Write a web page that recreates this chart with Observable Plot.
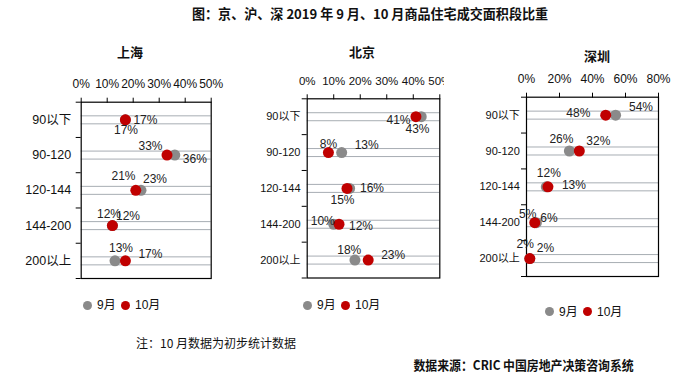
<!DOCTYPE html>
<html><head><meta charset="utf-8">
<script src="https://cdn.jsdelivr.net/npm/d3@7"></script>
<script src="https://cdn.jsdelivr.net/npm/@observablehq/plot@0.6"></script>
<style>
body{margin:0;background:#fff;}
#wrap{position:relative;width:700px;height:382px;overflow:hidden;background:#fff;font-family:"Liberation Sans",Arial,"Noto Sans CJK SC",sans-serif;color:#111;}
.abs{position:absolute;white-space:nowrap;line-height:1;}
.ttl{font-family:"Noto Sans CJK SC",sans-serif;font-weight:700;}
.panel{position:absolute;top:60px;}
.panel svg{display:block;overflow:hidden;background:transparent;}
.dot{position:absolute;width:9px;height:9px;border-radius:50%;}
</style></head><body><div id="wrap"></div>
<script>
// ---- data ----
const categories = ["90以下","90-120","120-144","144-200","200以上"];
const cities = ["上海","北京","深圳"];
const seriesNames = ["9月","10月"];
const shanghaiSep = [17,36,23,12,13];
const shanghaiOct = [17,33,21,12,17];
const beijingSep  = [43,13,16,10,18];
const beijingOct  = [41,8,15,12,23];
const shenzhenSep = [54,26,12,6,2];
const shenzhenOct = [48,32,13,5,2];
const shanghaiTicks = [0,10,20,30,40,50];
const beijingTicks  = [0,10,20,30,40,50];
const shenzhenTicks = [0,20,40,60,80];
const titleText = "图：京、沪、深 2019 年 9 月、10 月商品住宅成交面积段比重";
const noteText = "注：10 月数据为初步统计数据";
const sourceText = "数据来源：CRIC 中国房地产决策咨询系统";

// ---- layout (label offsets in px, not data) ----
const gray = "#8a8a8a", red = "#c00000", gridColor = "#a7adb3";
const panels = [
  {city: cities[0], sep: shanghaiSep, oct: shanghaiOct, ticks: shanghaiTicks, max: 50,
   left: 0, width: 230, mL: 80.7, mR: 19.3, mT: 41.7, mB: 7, catPad: 10, catSize: 12.5, tickSize: 12,
   sepOff: [[0.6,10],[20,4.4],[14,-11.5],[-3.4,-11],[6,-12.7]],
   octOff: [[20,0],[-16.5,-8.6],[-12.3,-14],[15.6,-9],[25,-7]],
   title: [130,51], legend: [87,305]},
  {city: cities[1], sep: beijingSep, oct: beijingOct, ticks: beijingTicks, max: 50,
   left: 240, width: 204, mL: 66.7, mR: 4.7, mT: 38.3, mB: 7.5, catPad: 6.7, catSize: 11, tickSize: 11.5,
   sepOff: [[-3.7,12],[25,-7],[22.4,0],[-11,-3.3],[-5.7,-9.7]],
   octOff: [[-17.4,3],[0,-8.6],[-4.5,11.7],[22,2.4],[25,-4.7]],
   title: [362,51], legend: [307,305]},
  {city: cities[2], sep: shenzhenSep, oct: shenzhenOct, ticks: shenzhenTicks, max: 80,
   left: 460, width: 240, mL: 66, mR: 42, mT: 36.7, mB: 9, catPad: 6.7, catSize: 11, tickSize: 12,
   sepOff: [[25.4,-8],[-8,-11.5],[2.5,-13.6],[12.6,-5],[-4.6,-14]],
   octOff: [[-27.4,-2],[19,-9.5],[26,-1.3],[-7,-9],[15.7,-10.4]],
   title: [597,55], legend: [549,311.7]}
];

const wrap = document.getElementById("wrap");
function addText(txt, x, y, css, size, anchor, fitW) {
  const d = document.createElement("div");
  d.className = "abs " + (css||"");
  d.textContent = txt;
  d.style.fontSize = size + "px";
  wrap.appendChild(d);
  const w = d.offsetWidth, h = d.offsetHeight;
  d.style.left = (anchor === "left" ? x : x - w/2) + "px";
  d.style.top = (y - h/2) + "px";
  if (fitW) { d.style.transformOrigin = "50% 50%"; d.style.transform = `scaleX(${fitW / w})`; }
  return d;
}
function addDot(x, y, color) {
  const d = document.createElement("div");
  d.className = "dot";
  d.style.background = color;
  d.style.left = (x - 4.5) + "px";
  d.style.top = (y - 4.5) + "px";
  wrap.appendChild(d);
}

addText(titleText, 370, 14, "ttl", 13.5, "center", 356);

for (const p of panels) {
  const rows = categories.map((c, i) => ({cat: c, pos: i + 0.5, sep: p.sep[i], oct: p.oct[i]}));
  const height = 225;
  const labelMarks = rows.flatMap((r, i) => [
    Plot.text([r], {x: "sep", y: "pos", text: d => d.sep + "%", dx: p.sepOff[i][0], dy: p.sepOff[i][1], fontSize: 12, fill: "#222"}),
    Plot.text([r], {x: "oct", y: "pos", text: d => d.oct + "%", dx: p.octOff[i][0], dy: p.octOff[i][1], fontSize: 12, fill: "#222"})
  ]);
  const svg = Plot.plot({
    width: p.width, height,
    marginLeft: p.mL, marginRight: p.mR, marginTop: p.mT, marginBottom: p.mB,
    style: {fontFamily: '"Liberation Sans", Arial, "Noto Sans CJK SC", sans-serif', background: "transparent", overflow: "hidden"},
    x: {domain: [0, p.max], label: null, axis: null},
    y: {domain: [0, categories.length], reverse: true, label: null, axis: null},
    marks: [
      Plot.ruleY(rows, {y: "pos", dy: -4, stroke: gridColor, strokeWidth: 1}),
      Plot.ruleY(rows, {y: "pos", dy: 4, stroke: gridColor, strokeWidth: 1}),
      Plot.axisX({anchor: "top", ticks: p.ticks, tickFormat: d => d + "%", tickSize: 5, tickPadding: 9, fontSize: p.tickSize, stroke: "#000", fill: "#111", label: null}),
      Plot.axisY({anchor: "left", ticks: d3.range(categories.length + 1), tickFormat: () => "", tickSize: 5, stroke: "#000", label: null}),
      Plot.axisY({anchor: "left", ticks: rows.map(r => r.pos), tickFormat: v => categories[Math.floor(v)], tickSize: 0, tickPadding: p.catPad, fontSize: p.catSize, fill: "#111", label: null}),
      Plot.frame({stroke: "#000", strokeWidth: 1.2}),
      Plot.dot(rows, {x: "sep", y: "pos", r: 5.5, fill: gray}),
      Plot.dot(rows, {x: "oct", y: "pos", r: 5.5, fill: red}),
      ...labelMarks
    ]
  });
  const holder = document.createElement("div");
  holder.className = "panel";
  holder.style.left = p.left + "px";
  holder.appendChild(svg);
  wrap.appendChild(holder);

  addText(p.city, p.title[0], p.title[1], "ttl", 13);

  const [lx, ly] = p.legend;
  addDot(lx, ly, gray);
  addText(seriesNames[0], lx + 10, ly, "", 12, "left");
  addDot(lx + 38, ly, red);
  addText(seriesNames[1], lx + 48, ly, "", 12, "left");
}

const n = addText(noteText, 216, 343, "", 12);
n.style.fontFamily = '"Noto Sans CJK SC", sans-serif';
n.style.left = (216 - n.offsetWidth/2) + "px"; n.style.top = (343 - n.offsetHeight/2) + "px";
addText(sourceText, 523, 364, "ttl", 13, "center", 220);
</script></body></html>
